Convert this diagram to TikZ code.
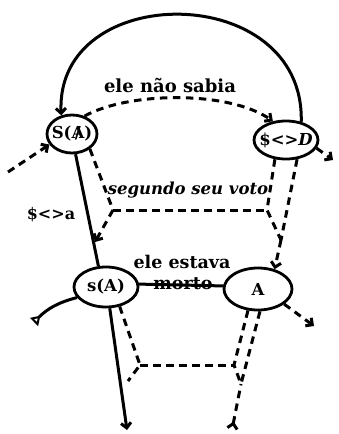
\documentclass[tikz,border=0pt]{standalone}
\usepackage{fontspec}
\setmainfont{DejaVu Serif}
\usetikzlibrary{shapes.geometric,arrows.meta}
\tikzset{
  circ/.style={ellipse,draw,line width=2.8pt,inner sep=0pt,inner xsep=-5pt,font=\bfseries\fontsize{16.5}{18}\selectfont},
  solidln/.style={line width=3pt},
  dashln/.style={line width=3pt,dash pattern=on 7.5pt off 5.5pt},
  tip/.style={-{Straight Barb[length=5pt,width=10pt]}},
  lbl/.style={font=\bfseries\fontsize{17.5}{19}\selectfont,inner sep=0pt},
}
\begin{document}
\begin{tikzpicture}[x=1pt,y=-1pt]
\useasboundingbox (0,0) rectangle (339,434);
% nodes
\node[circ,minimum width=50pt,minimum height=38pt] (SA) at (72,134) {S(\ooalign{A\cr\hidewidth/\hidewidth})};
\node[circ,minimum width=64pt,minimum height=38pt] (SD) at (286,140) {\$<>\textit{D}};
\node[circ,minimum width=64pt,minimum height=40pt] (sA) at (106,287) {s(A)};
\node[circ,minimum width=68pt,minimum height=42pt] (A) at (258,289) {A};
% labels
\node[lbl,font=\bfseries\fontsize{18}{20}\selectfont] (t1) at (170,85) {ele não sabia};
\node[lbl,font=\bfseries\itshape\fontsize{16.5}{18}\selectfont] (t2) at (188,190) {segundo seu voto};
\node[lbl,font=\bfseries\fontsize{16}{18}\selectfont] (t3) at (51,215) {\$<>a};
\node[lbl] (t4) at (182,262) {ele estava};
\node[lbl] (t5) at (183,284) {morto};
% coordinates
\coordinate (L1) at (8,172);
\coordinate (R1) at (333,160);
\coordinate (c1) at (113,210);
\coordinate (c2) at (95,242);
\coordinate (c3) at (267,210);
\coordinate (c4) at (281,240);
\coordinate (T1) at (34,322);
\coordinate (B1) at (127,430);
\coordinate (c5) at (140,365);
\coordinate (c6) at (128,381);
\coordinate (c8) at (234,365);
\coordinate (c9) at (241,384);
\coordinate (B2) at (232,430);
\coordinate (R2) at (314,326);
% solid connectors
\draw[solidln,tip] (SD.50) .. controls (305,-20) and (55,-20) .. (SA.120);
\draw[solidln] (SA.-80) -- (sA.110);
\draw[solidln] (sA.5) -- (A.175);
\draw[solidln,-{Triangle[open,reversed,length=9pt,width=11pt,line width=2pt]}] (sA.200) to[bend right=15] (T1);
\draw[solidln,tip] (sA.-80) -- (B1);
% dashed connectors
\draw[dashln,tip] (SA.55) .. controls (130,91) and (230,91) .. (SD.125);
\draw[dashln,tip] (L1) -- (SA.205);
\draw[dashln,tip] (SD.-15) -- (R1);
\draw[dashln] (SA.-40) -- (c1);
\draw[dashln,tip] (c1) -- (c2);
\draw[dashln] (c1) -- (c3);
\draw[dashln] (SD.-120) -- (c3) -- (c4);
\draw[dashln] (SD.-60) -- (c4);
\draw[dashln,tip] (c4) -- (A.50);
\draw[dashln] (sA.-55) -- (c5) -- (c6);
\draw[dashln] (c5) -- (c8);
\draw[dashln] (A.-115) -- (c8) -- (c9);
\draw[dashln] (A.-85) -- (c9);
\draw[dashln,{Straight Barb[reversed,length=5pt,width=10pt]}-] (B2) -- (c9);
\draw[dashln,tip] (A.-30) -- (R2);
\end{tikzpicture}
\end{document}
